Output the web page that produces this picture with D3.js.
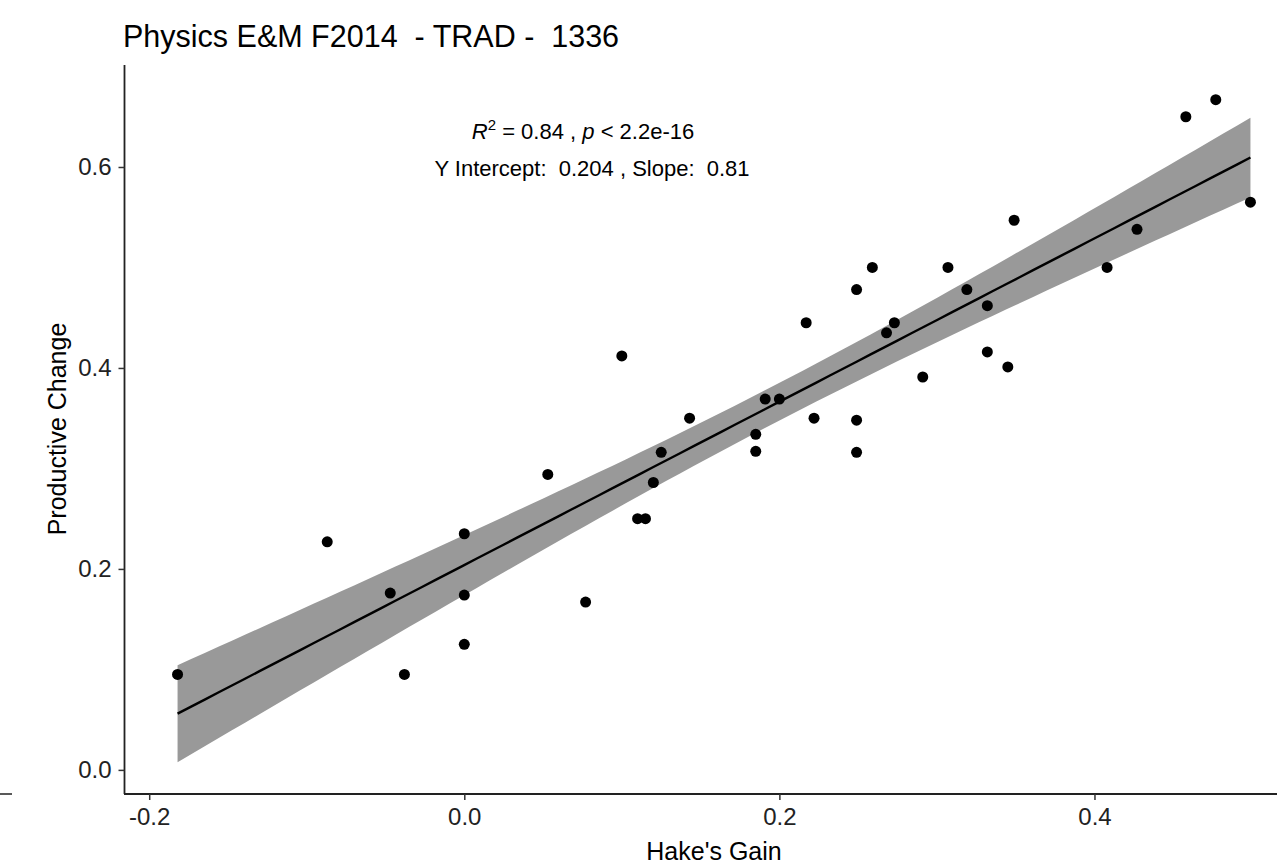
<!DOCTYPE html>
<html>
<head>
<meta charset="utf-8">
<script src="https://d3js.org/d3.v7.min.js"></script>
<style>
  body { margin: 0; background: #fff; }
  svg { display: block; font-family: "Liberation Sans", Arial, sans-serif; }
  text { white-space: pre; }
</style>
</head>
<body>
<div id="chart"></div>
<script>
// data
const hakeGain = [-0.182, -0.087, -0.047, -0.038, 0.000, 0.000, 0.000, 0.053, 0.077, 0.100,
  0.110, 0.115, 0.120, 0.125, 0.143, 0.185, 0.185, 0.191, 0.200, 0.217,
  0.222, 0.249, 0.249, 0.249, 0.259, 0.268, 0.273, 0.291, 0.307, 0.319,
  0.332, 0.332, 0.345, 0.349, 0.408, 0.427, 0.458, 0.477, 0.499];
const productiveChange = [0.095, 0.227, 0.176, 0.095, 0.235, 0.174, 0.125, 0.294, 0.167, 0.412,
  0.250, 0.250, 0.286, 0.316, 0.350, 0.317, 0.334, 0.369, 0.369, 0.445,
  0.350, 0.348, 0.316, 0.478, 0.500, 0.435, 0.445, 0.391, 0.500, 0.478,
  0.416, 0.462, 0.401, 0.547, 0.500, 0.538, 0.650, 0.667, 0.565];
const xTicks = [-0.2, 0.0, 0.2, 0.4];
const yTicks = [0.0, 0.2, 0.4, 0.6];
const titleText = "Physics E&M F2014  - TRAD -  1336";
const statLine1 = ["R", "2", " = 0.84 , ", "p", " < 2.2e-16"];
const statLine2 = "Y Intercept:  0.204 , Slope:  0.81";
const tCrit = 2.026; // t(0.975, df = 37)

const width = 1277, height = 867;
const svg = d3.select("#chart").append("svg")
  .attr("width", width)
  .attr("height", height);

// 坐标比例尺
const x = d3.scaleLinear().domain([-0.216, 0.533]).range([124, 1304]);
const y = d3.scaleLinear().domain([-0.024, 0.7015]).range([794, 65]);

// 线性回归 + 置信区间
const pts = hakeGain.map((v, i) => ({ x: v, y: productiveChange[i] }));
const n = pts.length;
const mx = d3.mean(pts, d => d.x), my = d3.mean(pts, d => d.y);
const sxx = d3.sum(pts, d => (d.x - mx) ** 2);
const sxy = d3.sum(pts, d => (d.x - mx) * (d.y - my));
const slope = sxy / sxx, icpt = my - slope * mx;
const sse = d3.sum(pts, d => (d.y - icpt - slope * d.x) ** 2);
const s = Math.sqrt(sse / (n - 2));
const [x0, x1] = d3.extent(hakeGain);
const fit = d3.range(80).map(i => {
  const xv = x0 + (x1 - x0) * i / 79;
  const yv = icpt + slope * xv;
  const se = s * Math.sqrt(1 / n + (xv - mx) ** 2 / sxx);
  return { x: xv, y: yv, lo: yv - tCrit * se, hi: yv + tCrit * se };
});

svg.append("path")
  .datum(fit)
  .attr("fill", "#999999")
  .attr("d", d3.area().x(d => x(d.x)).y0(d => y(d.lo)).y1(d => y(d.hi)));

svg.append("path")
  .datum(fit)
  .attr("fill", "none")
  .attr("stroke", "#000")
  .attr("stroke-width", 2.4)
  .attr("d", d3.line().x(d => x(d.x)).y(d => y(d.y)));

svg.selectAll("circle.pt")
  .data(pts)
  .enter().append("circle")
  .attr("class", "pt")
  .attr("cx", d => x(d.x))
  .attr("cy", d => y(d.y))
  .attr("r", 5.5)
  .attr("fill", "#000");

// 坐标轴 (hyphen minus like R)
const fmt = d => d3.format(".1f")(d).replace("\u2212", "-");
const xAxis = svg.append("g")
  .attr("transform", "translate(0,794)")
  .call(d3.axisBottom(x).tickValues(xTicks).tickFormat(fmt).tickSizeOuter(0).tickSize(6).tickPadding(6));
const yAxis = svg.append("g")
  .attr("transform", "translate(124.5,0)")
  .call(d3.axisLeft(y).tickValues(yTicks).tickFormat(fmt).tickSizeOuter(0).tickSize(6).tickPadding(7));

[xAxis, yAxis].forEach(g => {
  g.select(".domain").attr("stroke", "#222").attr("stroke-width", 1.8);
  g.selectAll(".tick line").attr("stroke", "#333").attr("stroke-width", 1.5);
  g.selectAll(".tick text")
    .attr("fill", "#222")
    .style("font-size", "24px")
    .style("font-family", "'Liberation Sans', Arial, sans-serif");
});
xAxis.select(".domain").attr("d", "M124,0H1304");
yAxis.select(".domain").attr("d", "M0,65V794");
xAxis.selectAll(".tick text").attr("dy", "0.8em");

// stray dash at bottom left of the picture
svg.append("line")
  .attr("x1", 0).attr("x2", 12).attr("y1", 794).attr("y2", 794)
  .attr("stroke", "#222").attr("stroke-width", 1.5);

// 标题
svg.append("text")
  .attr("x", 123).attr("y", 47)
  .style("font-size", "30.5px")
  .attr("fill", "#000")
  .text(titleText);

svg.append("text")
  .attr("x", 714).attr("y", 860)
  .attr("text-anchor", "middle")
  .style("font-size", "25px")
  .text("Hake's Gain");

svg.append("text")
  .attr("transform", "translate(66,429) rotate(-90)")
  .attr("text-anchor", "middle")
  .style("font-size", "25px")
  .text("Productive Change");

// 回归统计说明
const t1 = svg.append("text")
  .attr("x", 583).attr("y", 139)
  .attr("text-anchor", "middle")
  .style("font-size", "22px");
t1.append("tspan").style("font-style", "italic").text(statLine1[0]);
t1.append("tspan").attr("dy", -9).style("font-size", "15px").text(statLine1[1]);
t1.append("tspan").attr("dy", 9).text(statLine1[2]);
t1.append("tspan").style("font-style", "italic").text(statLine1[3]);
t1.append("tspan").text(statLine1[4]);

svg.append("text")
  .attr("x", 592).attr("y", 176)
  .attr("text-anchor", "middle")
  .style("font-size", "22px")
  .text(statLine2);
</script>
</body>
</html>
